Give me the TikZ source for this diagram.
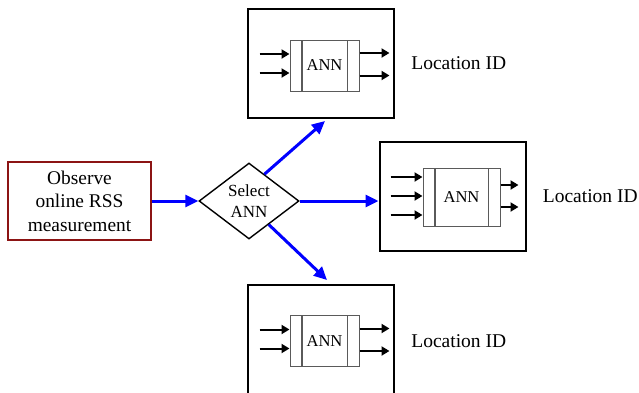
\documentclass[tikz,border=0pt]{standalone}
\usepackage{fontspec}
\setmainfont{Liberation Serif}
\usetikzlibrary{positioning,arrows.meta,shapes.geometric}
\definecolor{obsred}{RGB}{140,20,20}
\definecolor{annedge}{RGB}{90,90,90}
\tikzset{
    process/.style = {
        draw=obsred,
        shape=rectangle,
        minimum width=71.5pt,
        minimum height=39pt,
        inner sep=0pt,
        line width=1pt,
        align=center,
        font=\fontsize{9.7}{11.75}\selectfont
    },
    select/.style = {
        draw,
        shape=diamond,
        minimum width=50pt,
        minimum height=38pt,
        inner sep=0pt,
        line width=0.7pt,
        align=center,
        font=\fontsize{8.5}{10.5}\selectfont
    },
    module/.style = {
        draw,
        shape=rectangle,
        minimum width=73pt,
        minimum height=54.5pt,
        line width=1pt
    },
    ann/.style = {
        draw=annedge,
        shape=rectangle,
        minimum width=34.5pt,
        minimum height=25.5pt,
        inner sep=0pt,
        line width=0.5pt,
        font=\fontsize{8.3}{10}\selectfont,
        path picture={
            \draw[annedge, line width=0.8pt] ([xshift=6pt]path picture bounding box.north west) -- ([xshift=6pt]path picture bounding box.south west);
            \draw ([xshift=-6pt]path picture bounding box.north east) -- ([xshift=-6pt]path picture bounding box.south east);
        }
    },
    output/.style = {
        inner sep=0pt,
        font=\fontsize{9.75}{12}\selectfont
    },
    feed/.style = {draw=blue, line width=1.5pt, -{Triangle[length=6.5pt,width=6pt]}},
    wire/.style = {draw, line width=1pt, -{Triangle[length=4pt,width=4.5pt]}},
}

\begin{document}
\begin{tikzpicture}[x=0.5pt,y=-0.5pt]
            \useasboundingbox (0,0) rectangle (639,392);
            \clip (0,0) rectangle (639,392);

            \node[process] (observe) at (79.5,201) {Observe\\online RSS\\measurement};
            \node[select] (select) at (249,201) {Select\\ANN};

            \node[module] (top) at (321,63.5) {};
            \node[module] (middle) at (452.5,196.5) {};
            \node[module] (bottom) at (321,339.5) {};

            \node[ann] (ann_top) at (324.5,65.5) {ANN};
            \node[ann, minimum width=38.5pt, minimum height=29pt] (ann_middle) at (461.5,197) {ANN};
            \node[ann] (ann_bottom) at (324.5,341) {ANN};

            \node[output] (loc_top) [right=8pt of top] {Location ID};
            \node[output] (loc_middle) [right=8pt of middle] {Location ID};
            \node[output] (loc_bottom) [right=8pt of bottom, yshift=-1pt] {Location ID};

            \path[feed] (observe.east) -- (select.west);
            \path[feed] (select.60) -- ([xshift=2pt,yshift=-1pt]top.south);
            \path[feed] (select.east) -- (select.east -| middle.west);
            \path[feed] (select.310) -- ([xshift=3pt,yshift=2pt]bottom.north);

            \foreach \dy in {-11.5,7.5} {
                \path[wire] ([shift={(-30,\dy)}]ann_top.west) -- ([shift={(0,\dy)}]ann_top.west);
                \path[wire] ([shift={(-30,\dy)}]ann_bottom.west) -- ([shift={(0,\dy)}]ann_bottom.west);
            }
            \foreach \dy in {-12.5,10} {
                \path[wire] ([shift={(0,\dy)}]ann_top.east) -- ++(30,0);
                \path[wire] ([shift={(0,\dy)}]ann_bottom.east) -- ++(30,0);
            }
            \foreach \dy in {-20,-1,18}
                \path[wire] ([shift={(-32,\dy)}]ann_middle.west) -- ([shift={(0,\dy)}]ann_middle.west);
            \foreach \dy in {-12,10}
                \path[wire] ([shift={(0,\dy)}]ann_middle.east) -- ++(18,0);

        \end{tikzpicture}
\end{document}
